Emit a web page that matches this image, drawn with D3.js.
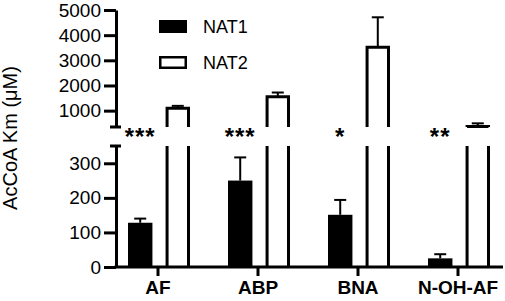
<!DOCTYPE html>
<html>
<head>
<meta charset="utf-8">
<script src="https://cdn.jsdelivr.net/npm/d3@7"></script>
<style>
  body { margin: 0; background: #fff; }
  svg text { font-family: "Liberation Sans", Arial, sans-serif; fill: #000; }
</style>
</head>
<body>
<svg id="chart"></svg>
<script>
const categories = ["AF", "ABP", "BNA", "N-OH-AF"];
const seriesNames = ["NAT1", "NAT2"];
const nat1Mean = [128, 250, 151, 25];
const nat1Err = [12, 67, 43, 12];
const nat2Mean = [1100, 1550, 3520, 370];
const nat2Err = [90, 170, 1190, 125];
const stars = ["***", "***", "*", "**"];
const lowTicks = [0, 100, 200, 300];
const highTicks = [1000, 2000, 3000, 4000, 5000];

const W = 505, H = 301;
const axisX = 116;
const LOW_MAX = 350, HIGH_MAX = 5000;

const svg = d3.select("#chart")
    .attr("width", W)
    .attr("height", H)
    .attr("viewBox", `0 0 ${W} ${H}`);

// two y segments (broken axis)
const yLow = d3.scaleLinear().domain([0, LOW_MAX]).range([267, 146]);
const yHigh = d3.scaleLinear().domain([LOW_MAX, HIGH_MAX]).range([127, 10]);

const x0 = d3.scaleBand().domain(categories).range([108, 508]);
const x1 = d3.scaleBand().domain(seriesNames).range([20, 82]).paddingInner(0.35);

const bars = [];
categories.forEach((c, i) => {
    bars.push({ cat: c, s: "NAT1", v: nat1Mean[i], e: nat1Err[i] });
    bars.push({ cat: c, s: "NAT2", v: nat2Mean[i], e: nat2Err[i] });
});

// Axis Y (low)
const axLow = svg.append("g")
    .attr("transform", `translate(${axisX},0)`)
    .call(d3.axisLeft(yLow).tickValues(lowTicks).tickFormat(d3.format("d"))
        .tickSize(12).tickSizeOuter(0).tickPadding(3));

// Axis Y (high)
const axHigh = svg.append("g")
    .attr("transform", `translate(${axisX},0)`)
    .call(d3.axisLeft(yHigh).tickValues(highTicks).tickFormat(d3.format("d"))
        .tickSize(12).tickSizeOuter(0).tickPadding(3));

[axLow, axHigh].forEach(ax => {
    ax.selectAll("path, line").attr("stroke", "#000").attr("stroke-width", 3);
    ax.selectAll("text").style("font-size", "19px").attr("fill", "#000");
});

// break caps
[yHigh(LOW_MAX), yLow(LOW_MAX)].forEach(y => {
    svg.append("line")
        .attr("x1", axisX - 6).attr("x2", axisX + 5)
        .attr("y1", y).attr("y2", y)
        .attr("stroke", "#000").attr("stroke-width", 3);
});

// Bars
bars.forEach(d => {
    const xa = x0(d.cat) + x1(d.s);
    const bw = x1.bandwidth();
    const cx = xa + bw / 2;
    if (d.s === "NAT1") {
        svg.append("rect")
            .attr("x", xa).attr("width", bw)
            .attr("y", yLow(d.v)).attr("height", yLow(0) - yLow(d.v))
            .attr("fill", "#000");
    } else {
        const l = xa + 1.5, r = xa + bw - 1.5;
        if (d.v > LOW_MAX) {
            svg.append("path")
                .attr("d", `M${l},${yLow(0)}V${yLow(LOW_MAX)}M${r},${yLow(0)}V${yLow(LOW_MAX)}`)
                .attr("fill", "none").attr("stroke", "#000").attr("stroke-width", 3);
            svg.append("path")
                .attr("d", `M${l},${yHigh(LOW_MAX)}V${yHigh(d.v)}H${r}V${yHigh(LOW_MAX)}`)
                .attr("fill", "#fff").attr("stroke", "#000").attr("stroke-width", 3);
        } else {
            svg.append("rect")
                .attr("x", l).attr("width", r - l)
                .attr("y", yLow(d.v)).attr("height", yLow(0) - yLow(d.v))
                .attr("fill", "#fff").attr("stroke", "#000").attr("stroke-width", 3);
        }
    }
    // error bar (upper only)
    const ys = d.v > LOW_MAX ? yHigh : yLow;
    const yTop = ys(d.v), yErr = ys(d.v + d.e);
    svg.append("line")
        .attr("x1", cx).attr("x2", cx).attr("y1", yTop).attr("y2", yErr)
        .attr("stroke", "#000").attr("stroke-width", 2);
    svg.append("line")
        .attr("x1", cx - 6).attr("x2", cx + 6).attr("y1", yErr).attr("y2", yErr)
        .attr("stroke", "#000").attr("stroke-width", 2);
});

// Axis X
svg.append("line")
    .attr("x1", axisX - 1.5).attr("x2", 503)
    .attr("y1", yLow(0)).attr("y2", yLow(0))
    .attr("stroke", "#000").attr("stroke-width", 3);

const axX = svg.append("g")
    .attr("transform", `translate(0,${yLow(0)})`)
    .call(d3.axisBottom(x0).tickSize(9).tickSizeOuter(0).tickPadding(5));
axX.select(".domain").remove();
axX.selectAll("line").attr("stroke", "#000").attr("stroke-width", 3);
axX.selectAll("text")
    .style("font-size", "19px")
    .style("font-weight", "bold")
    .attr("fill", "#000");

// significance stars
categories.forEach((c, i) => {
    svg.append("text")
        .attr("x", x0(c) + x1("NAT1") + x1.bandwidth() / 2)
        .attr("y", 145)
        .attr("text-anchor", "middle")
        .style("font-size", "24px")
        .style("font-weight", "bold")
        .style("letter-spacing", "1px")
        .text(stars[i]);
});

// Legend
seriesNames.forEach((s, i) => {
    const y = 20 + i * 36;
    if (s === "NAT1") {
        svg.append("rect").attr("x", 159).attr("y", y).attr("width", 28).attr("height", 13)
            .attr("fill", "#000");
    } else {
        svg.append("rect").attr("x", 160.25).attr("y", y + 1.25).attr("width", 25.5).attr("height", 10.5)
            .attr("fill", "#fff").attr("stroke", "#000").attr("stroke-width", 2.5);
    }
    svg.append("text")
        .attr("x", 203).attr("y", y + 13)
        .style("font-size", "18px")
        .text(s);
});

// Label Y
svg.append("text")
    .attr("transform", "rotate(-90)")
    .attr("x", -138)
    .attr("y", 17)
    .attr("text-anchor", "middle")
    .style("font-size", "20px")
    .text("AcCoA Km (μM)");
</script>
</body>
</html>
